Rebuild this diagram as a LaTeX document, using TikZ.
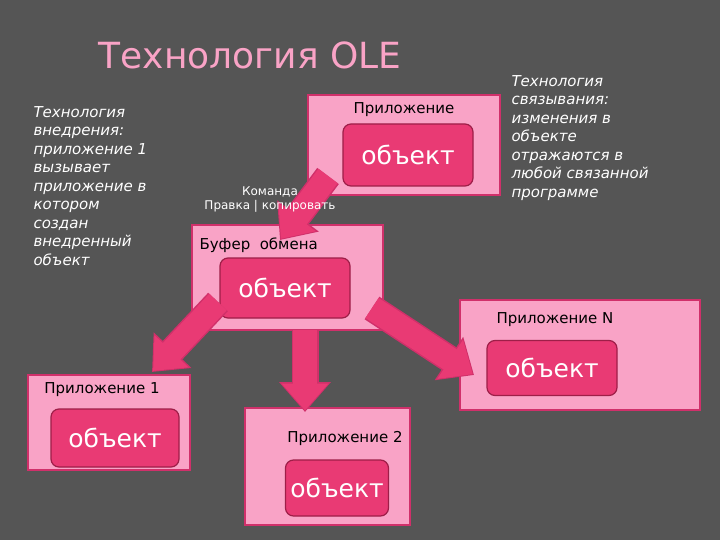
\documentclass[tikz,border=0pt]{standalone}
\usepackage{fontspec}
\setmainfont{DejaVu Sans}
\usetikzlibrary{arrows.meta}
\definecolor{bg}{HTML}{555555}
\definecolor{lp}{HTML}{F9A3C6}
\definecolor{lpb}{HTML}{D0306A}
\definecolor{hp}{HTML}{E93A74}
\definecolor{hpb}{HTML}{9E1E48}
\begin{document}
\begin{tikzpicture}[x=1pt,y=-1pt,
  outer/.style={fill=lp,draw=lpb,line width=1.5pt},
  inner/.style={fill=hp,draw=hpb,line width=1.2pt,rounded corners=8pt,text=white,font=\fontsize{25}{25}\selectfont},
  lbl/.style={font=\fontsize{15}{15}\selectfont,text=black},
  side/.style={font=\fontsize{15}{18.5}\selectfont\itshape,text=white,align=left}]
\useasboundingbox (0,0) rectangle (720,540);
\fill[bg] (0,0) rectangle (720,540);
\node[text=lp,font=\fontsize{36}{36}\selectfont] (title) at (250,55) {Технология OLE};
% boxes
\draw[outer] (308,95) rectangle (500,195);
\node[lbl] (app) at (404,110) {Приложение};
\node[inner,minimum width=130pt,minimum height=62pt] (o0) at (408,155) {объект};
\draw[outer] (192,225) rectangle (383,330);
\node[lbl,anchor=west] (buf) at (196,245) {Буфер\ \ обмена};
\node[inner,minimum width=130pt,minimum height=60pt] (ob) at (285,288) {объект};
\draw[outer] (28,375) rectangle (190,470);
\node[lbl] (a1) at (102,390) {Приложение 1};
\node[inner,minimum width=128pt,minimum height=58pt] (o1) at (115,438) {объект};
\draw[outer] (245,408) rectangle (410,525);
\node[lbl] (a2) at (345,438) {Приложение 2};
\node[inner,minimum width=103pt,minimum height=56pt] (o2) at (337,488) {объект};
\draw[outer] (460,300) rectangle (700,410);
\node[lbl] (an) at (555,320) {Приложение N};
\node[inner,minimum width=130pt,minimum height=55pt] (on) at (552,368) {объект};
% arrows
\coordinate (s0) at (328,176); \coordinate (t0) at (280,240);
\coordinate (s1) at (218,302); \coordinate (t1) at (152,372);
\coordinate (s2) at (305,330); \coordinate (t2) at (305,412);
\coordinate (s3) at (372,308); \coordinate (t3) at (474,375);
\foreach \a/\b in {s0/t0,s1/t1,s2/t2,s3/t3}{
  \draw[draw=lpb,line width=27pt,-{Triangle[length=30pt,width=50pt]}] (\a) -- (\b);
  \draw[draw=hp,line width=24pt,-{Triangle[length=27pt,width=45pt]},shorten >=1.5pt] (\a) -- (\b);
}
\node[font=\fontsize{12}{14}\selectfont,text=white,align=center] (cmd) at (270,200) {Команда\\Правка | копировать};
\node[side,anchor=north west] (left) at (30,103) {Технология\\внедрения:\\приложение 1\\вызывает\\приложение в\\котором\\создан\\внедренный\\объект};
\node[side,anchor=north west] (right) at (508,72) {Технология\\связывания:\\изменения в\\объекте\\отражаются в\\любой связанной\\программе};
\end{tikzpicture}
\end{document}
